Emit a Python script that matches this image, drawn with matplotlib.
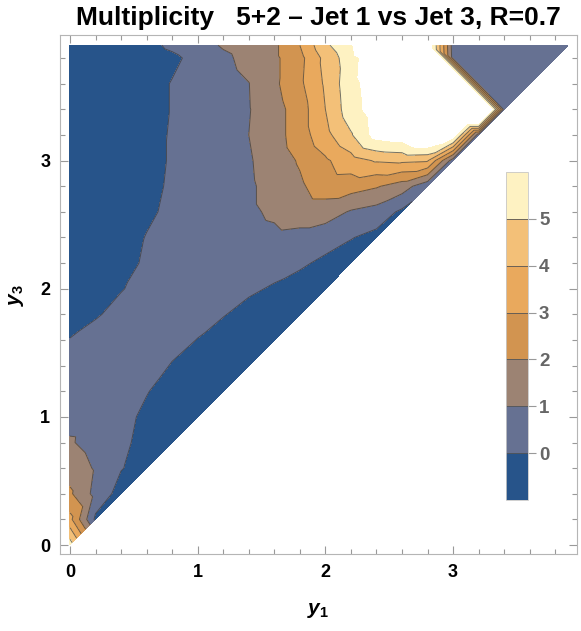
import matplotlib
matplotlib.use('Agg')
import matplotlib.pyplot as plt
import matplotlib.tri as mtri
import matplotlib.ticker as ticker

plt.rcParams['font.family'] = ['Liberation Sans', 'DejaVu Sans']
plt.rcParams['mathtext.fontset'] = 'custom'
plt.rcParams['mathtext.it'] = 'Liberation Sans:italic:bold'
plt.rcParams['mathtext.rm'] = 'Liberation Sans:bold'

# grid nodes (same for y1 and y3), only y3 >= y1 is filled
grid = [0.0, 0.2, 0.4, 0.6, 0.8, 1.0, 1.2, 1.4, 1.6, 1.8, 2.0,
        2.2, 2.4, 2.6, 2.8, 3.0, 3.2, 3.4, 3.6, 3.8, 3.9]

# multiplicity values, one row per y3 node, y1 = 0, 0.2, ... up to y3
m_000 = [5.5]
m_020 = [3.3, -0.2]
m_040 = [2.15, 0.7, -0.4]
m_060 = [1.6, 0.9, 0.05, -0.4]
m_080 = [1.1, 0.6, 0.2, -0.3, -0.5]
m_100 = [0.7, 0.65, 0.3, -0.2, -0.5, -0.6]
m_120 = [0.5, 0.6, 0.45, 0.05, -0.4, -0.6, -0.7]
m_140 = [0.3, 0.5, 0.55, 0.35, -0.05, -0.4, -0.6, -0.7]
m_160 = [0.05, 0.4, 0.5, 0.45, 0.25, -0.02, -0.4, -0.6, -0.7]
m_180 = [-0.6, -0.1, 0.3, 0.45, 0.4, 0.25, 0.05, -0.3, -0.6, -0.7]
m_200 = [-0.9, -0.6, -0.05, 0.3, 0.45, 0.45, 0.35, 0.15, -0.1, -0.4, -0.6]
m_220 = [-1, -0.8, -0.35, 0.15, 0.35, 0.5, 0.55, 0.5, 0.35, 0.15, -0.2, -0.5]
m_240 = [-1, -0.9, -0.5, 0.05, 0.35, 0.5, 0.6, 0.7, 0.8, 0.7, 0.4, 0.05, -0.3]
m_260 = [-1, -1, -0.7, -0.2, 0.25, 0.5, 0.7, 0.85, 1.15, 1.5, 1.5, 0.9, 0.6,
         -0.2]
m_280 = [-1, -1, -0.8, -0.3, 0.15, 0.45, 0.7, 0.85, 1.35, 1.85, 2.5, 2.45,
         2.1, 1.5, 0.3]
m_300 = [-1, -1, -0.8, -0.35, 0.1, 0.4, 0.7, 0.9, 1.5, 2.1, 2.85, 3.6, 4.1,
         4.2, 4.1, 0.5]
m_320 = [-1, -1, -0.8, -0.4, 0.1, 0.4, 0.7, 1.0, 1.6, 2.5, 3.7, 4.9, 6.5,
         6.8, 8, 7, 0.5]
m_340 = [-1, -1, -0.8, -0.4, 0.05, 0.35, 0.65, 0.95, 1.6, 2.5, 4.0, 5.6, 6.6,
         12, 14, 14, 14, 0.5]
m_360 = [-1, -1, -0.8, -0.4, 0.05, 0.35, 0.65, 0.98, 1.8, 2.8, 4.15, 5.7, 6.6,
         12, 12, 14, 0.6, 0.5, 0.5]
m_380 = [-0.9, -0.9, -0.8, -0.5, -0.2, 0.3, 0.8, 1.3, 1.8, 2.7, 4.3, 5.6, 7,
         12, 14, 0.6, 0.5, 0.5, 0.5, 0.5]
m_390 = [-0.9, -0.9, -0.7, -0.3, 0.2, 0.6, 1.1, 1.4, 1.8, 3.0, 4.8, 5.9, 9,
         12, 7.3, 0.5, 0.5, 0.5, 0.5, 0.5, 0.5]

rows = [m_000, m_020, m_040, m_060, m_080, m_100, m_120, m_140, m_160, m_180,
        m_200, m_220, m_240, m_260, m_280, m_300, m_320, m_340, m_360, m_380,
        m_390]

levels = [-10, 0, 1, 2, 3, 4, 5, 6]
colors = ['#27548a', '#667192', '#9c8373', '#d29450', '#e9a95d', '#f3c078',
          '#fef2c2']

# triangulated grid over the region y3 >= y1
xs, ys, zs, idx = [], [], [], {}
for j, row in enumerate(rows):
    for i, v in enumerate(row):
        idx[(i, j)] = len(xs)
        xs.append(grid[i])
        ys.append(grid[j])
        zs.append(v)
tris = []
for j in range(len(rows) - 1):
    for i in range(j + 1):
        a, b = idx[(i, j)], idx.get((i + 1, j))
        c, d = idx[(i + 1, j + 1)], idx[(i, j + 1)]
        if i == j:
            tris.append([a, c, d])
        elif i >= 14 and j >= 16:
            # cut the other way near the steep edge in the top corner
            tris.append([a, b, d])
            tris.append([b, c, d])
        else:
            tris.append([a, b, c])
            tris.append([a, c, d])
tri = mtri.Triangulation(xs, ys, tris)

fig = plt.figure(figsize=(5.81, 6.31), dpi=100)
ax = fig.add_axes([60 / 581, 1 - 554 / 631, 517 / 581, 519 / 631])

cf = ax.tricontourf(tri, zs, levels=levels, colors=colors)
ax.tricontour(tri, zs, levels=[0, 1, 2, 3, 4, 5], colors='#3a3a3a',
              linewidths=0.7, alpha=0.7)

ax.set_xlim(-0.078, 3.97)
ax.set_ylim(-0.07, 3.98)
ax.xaxis.set_major_locator(ticker.MultipleLocator(1))
ax.yaxis.set_major_locator(ticker.MultipleLocator(1))
ax.xaxis.set_minor_locator(ticker.MultipleLocator(0.2))
ax.yaxis.set_minor_locator(ticker.MultipleLocator(0.2))
ax.tick_params(which='both', direction='in', top=True, right=True,
               color='#999999', width=0.8)
ax.tick_params(which='major', length=6, labelsize=13, pad=7)
ax.tick_params(which='minor', length=3.5)
for lab in ax.get_xticklabels() + ax.get_yticklabels():
    lab.set_fontweight('bold')
for sp in ax.spines.values():
    sp.set_edgecolor('#b5b5b5')
    sp.set_linewidth(0.8)

fig.text(318 / 581, 1 - 18 / 631, 'Multiplicity   5+2 – Jet 1 vs Jet 3, R=0.7',
         ha='center', va='center', fontsize=19, fontweight='bold')
fig.text(318 / 581, 1 - 611 / 631, r'$y_1$', ha='center', va='center',
         fontsize=15)
fig.text(17 / 581, 1 - 295 / 631, r'$y_3$', ha='center', va='center',
         fontsize=15, rotation=90)

# legend bar inside the frame
cax = fig.add_axes([506 / 581, 1 - 500 / 631, 22 / 581, 328 / 631])
cb = fig.colorbar(cf, cax=cax, ticks=[0, 1, 2, 3, 4, 5])
cb.outline.set_edgecolor('#c8c8c8')
cb.outline.set_linewidth(0.6)
cb.add_lines([0, 1, 2, 3, 4, 5], ['#555555'] * 6, [0.6] * 6)
cax.tick_params(length=6, width=0.8, color='#999999', labelsize=13.5,
                labelcolor='#666666', pad=2)
for lab in cax.get_yticklabels():
    lab.set_fontweight('bold')

fig.savefig('out.png', dpi=100)
